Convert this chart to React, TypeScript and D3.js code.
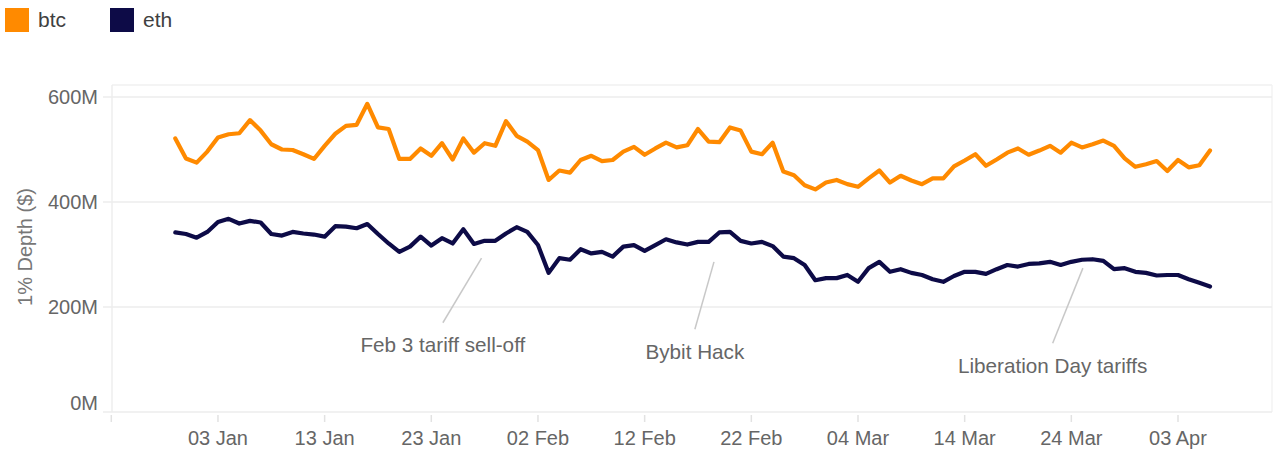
import React from "react";
import * as d3 from "d3";

const startDate = "2024-12-30";
const endDate = "2025-04-07";

const btcValues = [
  521, 483, 475, 496, 523, 529, 531, 556, 536, 510, 500, 499, 491, 482, 507, 530, 545, 547, 587, 542,
  539, 482, 482, 502, 488, 512, 481, 521, 494, 512, 507, 554, 526, 515, 499, 442, 460, 456, 480, 488,
  478, 480, 496, 505, 490, 502, 513, 504, 508, 539, 515, 514, 542, 536, 496, 491, 513, 458, 451, 432,
  424, 437, 442, 434, 429, 445, 460, 437, 450, 441, 434, 445, 445, 468, 479, 491, 469, 481, 494, 502,
  490, 498, 507, 494, 513, 504, 510, 517, 507, 483, 467, 472, 478, 459, 480, 466, 470, 498,
];

const ethValues = [
  342, 339, 332, 343, 362, 368, 359, 364, 361, 339, 336, 343, 340, 338, 334, 354, 353, 350, 358, 339,
  321, 305, 315, 334, 317, 331, 321, 348, 320, 326, 326, 340, 352, 343, 318, 265, 293, 290, 310, 302,
  305, 296, 315, 318, 307, 318, 329, 323, 319, 324, 324, 342, 343, 326, 321, 324, 316, 296, 293, 280,
  251, 255, 255, 261, 248, 274, 286, 267, 272, 265, 261, 253, 248, 259, 267, 267, 263, 272, 280, 277,
  282, 283, 286, 280, 286, 290, 291, 288, 272, 274, 267, 265, 260, 261, 261, 253, 246, 239,
];

const seriesNames = ["btc", "eth"];
const seriesColors = ["#ff8a00", "#0d0b47"];

const xTickDates = [
  "2024-12-24", "2025-01-03", "2025-01-13", "2025-01-23", "2025-02-02", "2025-02-12",
  "2025-02-22", "2025-03-04", "2025-03-14", "2025-03-24", "2025-04-03",
];
const xTickLabels = ["", "03 Jan", "13 Jan", "23 Jan", "02 Feb", "12 Feb", "22 Feb", "04 Mar", "14 Mar", "24 Mar", "03 Apr"];

const yTicks = [0, 200, 400, 600];
const yTickLabels = ["0M", "200M", "400M", "600M"];

const annotationLabels = ["Feb 3 tariff sell-off", "Bybit Hack", "Liberation Day tariffs"];
const annotationPointDates = ["2025-01-27T17:00:00Z", "2025-02-18T12:00:00Z", "2025-03-25T02:00:00Z"];
const annotationPointValues = [293, 286, 274];
const annotationLabelDates = ["2025-01-24T02:00:00Z", "2025-02-16T17:00:00Z", "2025-03-22T06:00:00Z"];
const annotationLabelValues = [170, 157.5, 131];

const FONT = "'Liberation Sans', Arial, Helvetica, sans-serif";

export default function App() {
  const W = 1274;
  const H = 453;
  const parse = d3.utcParse("%Y-%m-%d");
  const dates = d3.utcDay.range(parse(startDate)!, parse(endDate)!);

  const x = d3
    .scaleUtc()
    .domain([parse("2024-12-24")!, parse("2025-04-03")!])
    .range([111.3, 1178]);
  const y = d3.scaleLinear().domain([0, 600]).range([412, 97]);

  const left = 112;
  const right = 1272;
  const top = 85;
  const bottom = 412;

  const line = d3
    .line<number>()
    .x((_, i) => x(dates[i]))
    .y((v) => y(v));

  const series = [btcValues, ethValues];

  return (
    <div style={{ position: "absolute", left: 0, top: 0 }}>
      <svg width={W} height={H} style={{ display: "block", fontFamily: FONT }}>
        <rect x={0} y={0} width={W} height={H} fill="#ffffff" />
        {/* legend */}
        {seriesNames.map((n, i) => (
          <g key={n} transform={`translate(${5 + i * 105},8)`}>
            <rect width={24} height={24} fill={seriesColors[i]} />
            <text x={33} y={12} dy="0.35em" fontSize={21} fill="#404040">
              {n}
            </text>
          </g>
        ))}
        {/* frame */}
        <line x1={left} x2={right} y1={top} y2={top} stroke="#f0f0f0" strokeWidth={1.5} />
        <line x1={right} x2={right} y1={top} y2={bottom} stroke="#f3f3f3" strokeWidth={1.5} />
        <line x1={left} x2={left} y1={top} y2={bottom} stroke="#eeeeee" strokeWidth={1.5} />
        {/* y grid + labels */}
        {yTicks.map((t, i) => (
          <g key={t}>
            <line x1={103} x2={right} y1={y(t)} y2={y(t)} stroke="#ececec" strokeWidth={1.5} />
            <text
              x={98}
              y={i === 0 ? y(t) - 9 : y(t)}
              dy="0.35em"
              textAnchor="end"
              fontSize={20}
              fill="#666666"
            >
              {yTickLabels[i]}
            </text>
          </g>
        ))}
        <text
          transform={`translate(25,247) rotate(-90)`}
          textAnchor="middle"
          dy="0.35em"
          fontSize={20}
          fill="#777777"
        >
          1% Depth ($)
        </text>
        {/* x ticks */}
        {xTickDates.map((d, i) => {
          const px = x(parse(d)!);
          return (
            <g key={d}>
              <line x1={px} x2={px} y1={415} y2={422} stroke="#e2e2e2" strokeWidth={1.5} />
              <text x={px} y={438} dy="0.35em" textAnchor="middle" fontSize={20} fill="#666666">
                {xTickLabels[i]}
              </text>
            </g>
          );
        })}
        {/* annotations */}
        {annotationLabels.map((lab, i) => {
          const px = x(d3.isoParse(annotationPointDates[i])!);
          const py = y(annotationPointValues[i]);
          const tx = x(d3.isoParse(annotationLabelDates[i])!);
          const ty = y(annotationLabelValues[i]);
          return (
            <g key={lab}>
              <line x1={px} y1={py} x2={tx} y2={ty} stroke="#c8c8c8" strokeWidth={1.5} />
              <text x={tx} y={ty + 29.5} textAnchor="middle" fontSize={20.7} fill="#666666">
                {lab}
              </text>
            </g>
          );
        })}
        {/* lines */}
        {series.map((s, i) => (
          <path
            key={seriesNames[i]}
            d={line(s) || ""}
            fill="none"
            stroke={seriesColors[i]}
            strokeWidth={4.2}
            strokeLinejoin="round"
            strokeLinecap="round"
          />
        ))}
      </svg>
    </div>
  );
}
